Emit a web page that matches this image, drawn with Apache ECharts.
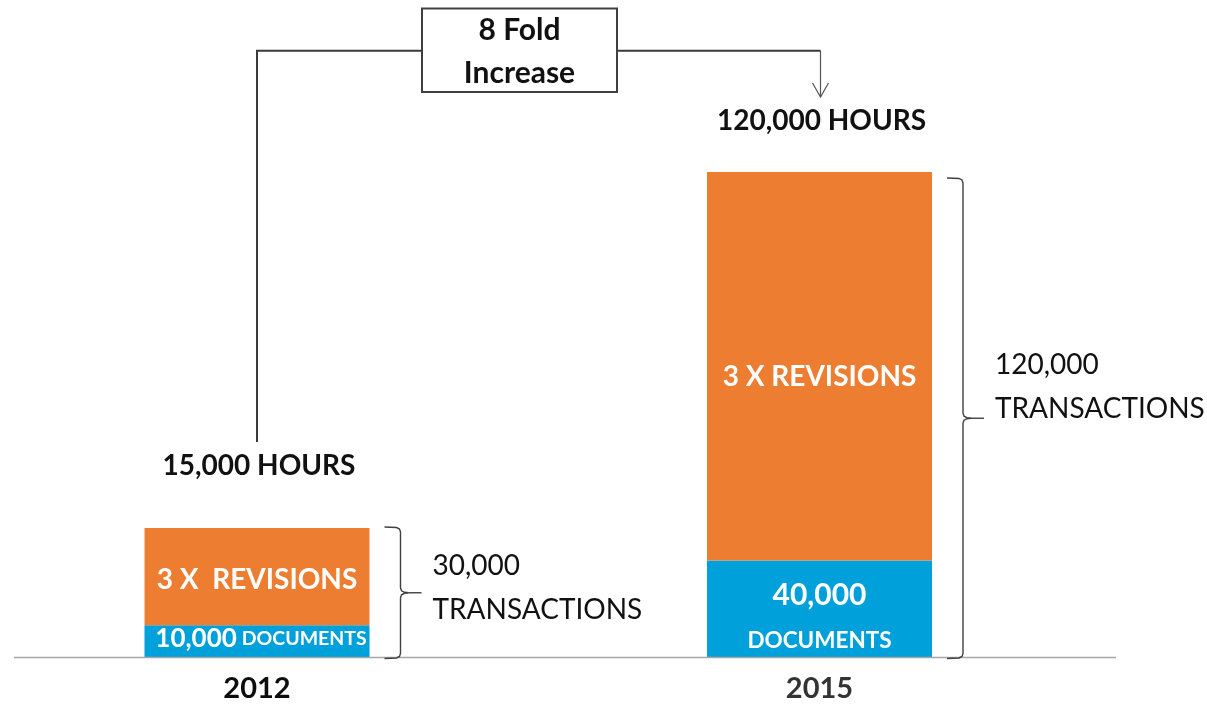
<!DOCTYPE html>
<html><head><meta charset="utf-8">
<script src="https://cdn.jsdelivr.net/npm/echarts@6/dist/echarts.min.js"></script>
<style>html,body{margin:0;padding:0;background:#fff;}#c{width:1207px;height:704px;}</style>
</head><body><div id="c"></div>
<script>
// ---- data ----
const years = ['2012', '2015'];
const documents = [8000, 24000];
const revisions = [24000, 96000];
const docCounts = ['10,000', '40,000'];
const revisionText = ['3 X  REVISIONS', '3 X REVISIONS'];
const hoursText = ['15,000 HOURS', '120,000 HOURS'];
const transactionCounts = ['30,000', '120,000'];
const increaseText = ['8 Fold', 'Increase'];

// ---- style ----
const FONT = 'Lato';
const ORANGE = '#ED7D31';
const BLUE = '#00A1DB';
const BAR_W = 225;
const yearColors = ['#0d0d0d', '#333333'];

const chart = echarts.init(document.getElementById('c'), null, {renderer: 'canvas'});

const docData = documents.map((v, i) => ({
  value: v,
  label: i === 0
    ? {formatter: '{a|' + docCounts[i] + '} {b|DOCUMENTS}', offset: [4, -3]}
    : {formatter: '{d|' + docCounts[i] + '}\n{c|DOCUMENTS}', offset: [0, 11]}
}));
const revData = revisions.map((v, i) => ({
  value: v,
  label: {formatter: revisionText[i], offset: [0, i === 0 ? 3 : 11]}
}));

chart.setOption({
  animation: false,
  backgroundColor: '#fff',
  grid: {left: 257, right: 1207 - 819.5, top: 50.6, bottom: 46.5, containLabel: false},
  xAxis: {
    type: 'category', data: years, boundaryGap: false,
    axisLine: {show: false}, axisTick: {show: false}, splitLine: {show: false},
    axisLabel: {fontFamily: FONT, fontWeight: 'bold', fontSize: 29, margin: 17,
      color: (v, i) => yearColors[i] || '#111'}
  },
  yAxis: {type: 'value', min: 0, max: 150000, show: false, splitLine: {show: false}},
  series: [
    {
      name: 'Documents', type: 'bar', stack: 't', barWidth: BAR_W, data: docData, clip: false,
      itemStyle: {color: BLUE},
      label: {show: true, position: 'inside', color: '#fff', fontFamily: FONT, fontWeight: 'bold',
        rich: {
          a: {fontFamily: FONT, fontWeight: 'bold', fontSize: 26, color: '#fff'},
          b: {fontFamily: FONT, fontWeight: 'bold', fontSize: 19.5, color: '#fff', padding: [0, 0, 0, 2]},
          d: {fontFamily: FONT, fontWeight: 'bold', fontSize: 30, color: '#fff', lineHeight: 42},
          c: {fontFamily: FONT, fontWeight: 'bold', fontSize: 22.5, color: '#fff', lineHeight: 50}
        }
      }
    },
    {
      name: 'Revisions', type: 'bar', stack: 't', barWidth: BAR_W, data: revData, clip: false,
      itemStyle: {color: ORANGE},
      label: {show: true, position: 'inside', color: '#fff', fontFamily: FONT, fontWeight: 'bold', fontSize: 28}
    }
  ]
});

// ---- annotations positioned through the chart's scales ----
const g = [];
const LINE = '#3a3a3a';
const baseY = chart.convertToPixel({gridIndex: 0}, [years[0], 0])[1];
g.push({type: 'line', shape: {x1: 14, y1: baseY, x2: 1116, y2: baseY}, style: {stroke: '#a6a6a6', lineWidth: 1.5}, z: 10});

const braceTopAdj = [0, 7];
const txtOffsetY = [-49, -75];
const hoursGap = [62, 51];
const tops = [];
years.forEach((yr, i) => {
  const total = documents[i] + revisions[i];
  const [cx, topY] = chart.convertToPixel({gridIndex: 0}, [yr, total]);
  tops.push([cx, topY]);
  const right = cx + BAR_W / 2;
  const x0 = right + 15, x1 = right + 31, tip = right + 52;
  const t = topY + braceTopAdj[i], b = baseY;
  const m = (t + b) / 2;
  g.push({type: 'polyline', shape: {points: [
    [x0, t - 1], [x1 - 4, t - 0.5], [x1 - 1, t + 1], [x1, t + 4],
    [x1, m - 5], [x1 + 1, m - 2], [x1 + 4, m - 0.5], [x1 + 8, m]
  ]}, style: {stroke: '#404040', lineWidth: 1.4, fill: null}, z: 10});
  g.push({type: 'polyline', shape: {points: [
    [x1 + 8, m], [x1 + 4, m + 0.5], [x1 + 1, m + 2], [x1, m + 5],
    [x1, b - 4], [x1 - 1, b - 1], [x1 - 4, b + 0.5], [x0, b + 1]
  ]}, style: {stroke: '#404040', lineWidth: 1.4, fill: null}, z: 10});
  g.push({type: 'line', shape: {x1: x1 + 8, y1: m, x2: tip, y2: m}, style: {stroke: '#404040', lineWidth: 1.4}, z: 10});
  g.push({type: 'text', x: right + 63, y: m + txtOffsetY[i], style: {
    text: transactionCounts[i] + '\nTRANSACTIONS', fontFamily: FONT, fontSize: 28, fill: '#111',
    lineHeight: 44, align: 'left', verticalAlign: 'top'}, z: 10});
  g.push({type: 'text', x: cx + 2, y: topY - hoursGap[i], style: {
    text: hoursText[i], fontFamily: FONT, fontWeight: 'bold', fontSize: 28, fill: '#111',
    align: 'center', verticalAlign: 'middle'}, z: 10});
});

// connector + box
const boxL = 422, boxR = 617, boxT = 8.5, boxB = 92, connY = 50.7;
const leftX = tops[0][0], rightX = tops[1][0];
g.push({type: 'polyline', shape: {points: [[leftX, tops[0][1] - hoursGap[0] - 24], [leftX, connY], [boxL, connY]]},
  style: {stroke: LINE, lineWidth: 2, fill: null}, z: 10});
g.push({type: 'polyline', shape: {points: [[boxR, connY], [rightX + 1, connY]]},
  style: {stroke: LINE, lineWidth: 2, fill: null}, z: 10});
const arrowTip = tops[1][1] - hoursGap[1] - 24;
g.push({type: 'line', shape: {x1: rightX + 1, y1: connY, x2: rightX + 1, y2: arrowTip}, style: {stroke: '#555', lineWidth: 1.2}, z: 10});
g.push({type: 'polyline', shape: {points: [[rightX - 7, arrowTip - 14], [rightX + 1, arrowTip], [rightX + 9, arrowTip - 14]]},
  style: {stroke: '#555', lineWidth: 1.2, fill: null}, z: 10});
g.push({type: 'rect', shape: {x: boxL, y: boxT, width: boxR - boxL, height: boxB - boxT},
  style: {stroke: '#404040', lineWidth: 2, fill: '#fff'}, z: 10});
g.push({type: 'text', x: (boxL + boxR) / 2, y: 30, style: {text: increaseText[0], fontFamily: FONT, fontWeight: 'bold', fontSize: 30, fill: '#111', align: 'center', verticalAlign: 'middle'}, z: 11});
g.push({type: 'text', x: (boxL + boxR) / 2, y: 73, style: {text: increaseText[1], fontFamily: FONT, fontWeight: 'bold', fontSize: 30, fill: '#111', align: 'center', verticalAlign: 'middle'}, z: 11});

chart.setOption({graphic: {elements: g}});
</script>
</body></html>
